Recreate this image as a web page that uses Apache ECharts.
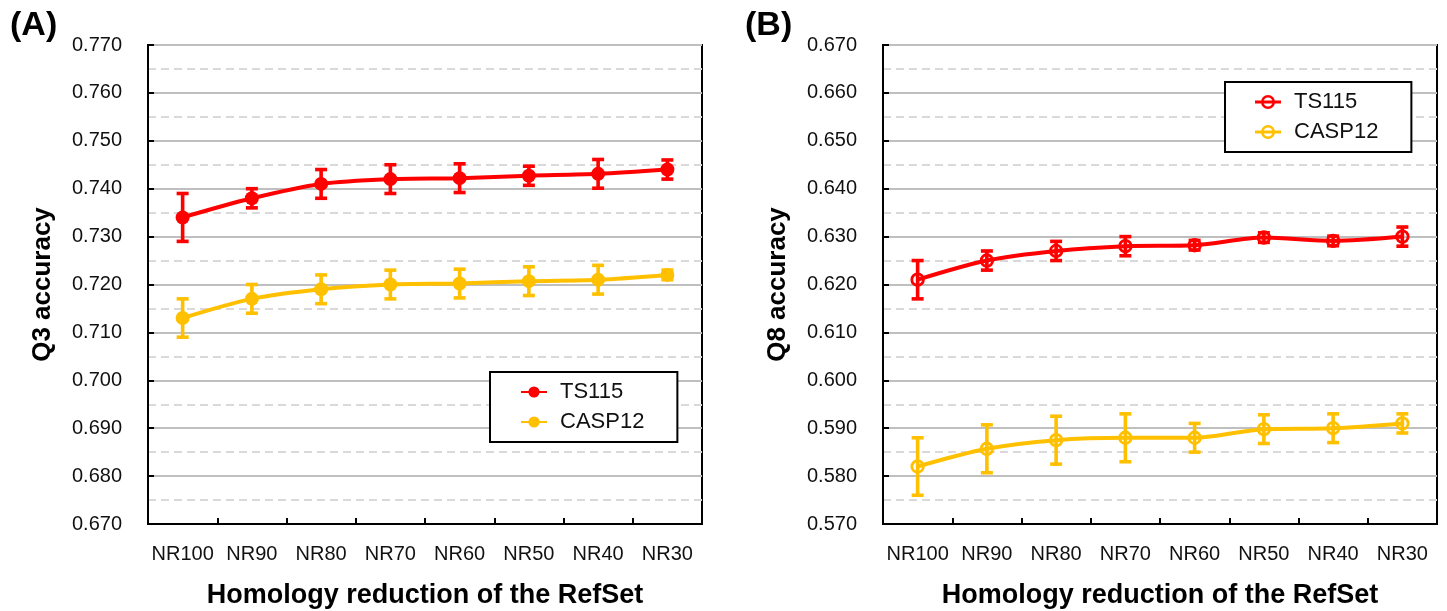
<!DOCTYPE html>
<html>
<head>
<meta charset="utf-8">
<script src="https://cdn.jsdelivr.net/npm/echarts@6/dist/echarts.min.js"></script>
<style>
  html, body { margin: 0; padding: 0; background: #fff; }
  #chart { width: 1447px; height: 611px; }
</style>
</head>
<body>
<div id="chart"></div>
<script>
// Homology reduction levels of the reference set
const categories = ['NR100', 'NR90', 'NR80', 'NR70', 'NR60', 'NR50', 'NR40', 'NR30'];

// (A) Q3 accuracy, mean and error half-width
const q3TS115 = [0.734, 0.738, 0.741, 0.742, 0.7422, 0.7427, 0.7431, 0.744];
const q3TS115Err = [0.005, 0.002, 0.003, 0.003, 0.003, 0.002, 0.003, 0.002];
const q3CASP12 = [0.713, 0.717, 0.719, 0.720, 0.7202, 0.7207, 0.721, 0.722];
const q3CASP12Err = [0.004, 0.003, 0.003, 0.003, 0.003, 0.003, 0.003, 0.001];

// (B) Q8 accuracy, mean and error half-width
const q8TS115 = [0.621, 0.625, 0.627, 0.628, 0.6282, 0.6298, 0.6291, 0.630];
const q8TS115Err = [0.004, 0.002, 0.002, 0.002, 0.001, 0.001, 0.001, 0.002];
const q8CASP12 = [0.582, 0.5857, 0.5875, 0.588, 0.588, 0.5898, 0.590, 0.591];
const q8CASP12Err = [0.006, 0.005, 0.005, 0.005, 0.003, 0.003, 0.003, 0.002];

// Axis ranges
const q3Axis = { min: 0.67, max: 0.77, step: 0.01 };
const q8Axis = { min: 0.57, max: 0.67, step: 0.01 };

const RED = '#ff0000';
const GOLD = '#ffc000';
const FONT = '"Liberation Sans", Arial, Helvetica, sans-serif';

// legend icon: open ring with the line passing through
const ringIcon = 'path://M0,5.5L26,5.5L26,8.5L0,8.5Z M6,7A7,7 0 1,1 20,7A7,7 0 1,1 6,7Z M8.5,7A4.5,4.5 0 1,0 17.5,7A4.5,4.5 0 1,0 8.5,7Z';

function barData(values, errs) {
  return values.map((v, i) => [i, v - errs[i], v + errs[i], v]);
}

function errorBarRenderer(color, ring) {
  return function (params, api) {
    const i = api.value(0);
    const lo = api.coord([i, api.value(1)]);
    const hi = api.coord([i, api.value(2)]);
    const mid = api.coord([i, api.value(3)]);
    const half = 6;
    const st = { stroke: color, lineWidth: 3.6 };
    const children = [
      { type: 'line', shape: { x1: lo[0], y1: lo[1], x2: hi[0], y2: hi[1] }, style: st },
      { type: 'line', shape: { x1: lo[0] - half, y1: lo[1], x2: lo[0] + half, y2: lo[1] }, style: st },
      { type: 'line', shape: { x1: hi[0] - half, y1: hi[1], x2: hi[0] + half, y2: hi[1] }, style: st }
    ];
    if (ring) {
      children.push({ type: 'circle', shape: { cx: mid[0], cy: mid[1], r: 5.8 },
        style: { fill: null, stroke: color, lineWidth: 2.8 } });
    }
    return { type: 'group', children: children };
  };
}

function valueAxis(idx, range, title) {
  return {
    type: 'value', gridIndex: idx,
    min: range.min, max: range.max, interval: range.step,
    name: title, nameLocation: 'middle', nameGap: 92,
    nameTextStyle: { fontFamily: FONT, fontSize: 26, fontWeight: 'bold', color: '#000' },
    axisLine: { show: true, lineStyle: { color: '#000', width: 2 } },
    axisTick: { show: true, inside: true, length: 6, lineStyle: { color: '#000', width: 2 } },
    axisLabel: { fontFamily: FONT, fontSize: 20, color: '#111', margin: 26,
      formatter: v => v.toFixed(3) },
    splitLine: { show: true, lineStyle: { color: '#bfbfbf', width: 2 } },
    minorTick: { show: false, splitNumber: 2 },
    minorSplitLine: { show: true, lineStyle: { color: '#d9d9d9', width: 2, type: [8, 5] } }
  };
}

function catAxis(idx) {
  return {
    type: 'category', gridIndex: idx, data: categories, boundaryGap: true,
    name: 'Homology reduction of the RefSet', nameLocation: 'middle', nameGap: 58,
    nameTextStyle: { fontFamily: FONT, fontSize: 27, fontWeight: 'bold', color: '#000' },
    axisLine: { show: true, lineStyle: { color: '#000', width: 2 } },
    axisTick: { show: true, inside: true, length: 6, lineStyle: { color: '#000', width: 2 } },
    axisLabel: { fontFamily: FONT, fontSize: 20, color: '#111', margin: 20, interval: 0 },
    splitLine: { show: false }
  };
}

function lineSeries(name, idx, values, color, filled) {
  return {
    type: 'line', name: name, xAxisIndex: idx, yAxisIndex: idx,
    data: values, smooth: 0.3, z: 2,
    symbol: filled ? 'circle' : 'none', symbolSize: 14, showSymbol: filled,
    lineStyle: { color: color, width: 4 },
    itemStyle: { color: color, borderWidth: 0 }
  };
}

function errSeries(idx, values, errs, color, ring) {
  return {
    type: 'custom', xAxisIndex: idx, yAxisIndex: idx, z: 3,
    data: barData(values, errs),
    encode: { x: 0, y: [1, 2] },
    renderItem: errorBarRenderer(color, ring)
  };
}

function legendBox(left, top, names, icon) {
  return {
    orient: 'vertical', left: left, top: top,
    data: names.map(n => icon ? { name: n, icon: icon } : { name: n }),
    itemWidth: 26, itemHeight: 14, itemGap: 8,
    padding: [9, 33, 9, 30],
    borderColor: '#000', borderWidth: 2, backgroundColor: '#fff',
    selectedMode: false,
    textStyle: { fontFamily: FONT, fontSize: 22, color: '#111', padding: [0, 0, 0, 8] }
  };
}

function gridBox(left) {
  return {
    left: left, top: 45, width: 554, height: 479,
    outerBoundsMode: 'none', containLabel: false,
    show: true, borderColor: '#000', borderWidth: 2, backgroundColor: 'transparent'
  };
}

const chart = echarts.init(document.getElementById('chart'), null, { renderer: 'canvas' });

chart.setOption({
  animation: false,
  backgroundColor: '#fff',
  grid: [gridBox(148), gridBox(883)],
  xAxis: [catAxis(0), catAxis(1)],
  yAxis: [valueAxis(0, q3Axis, 'Q3 accuracy'), valueAxis(1, q8Axis, 'Q8 accuracy')],
  legend: [
    legendBox(490, 372, ['TS115', 'CASP12'], null),
    legendBox(1225, 82, ['TS115', 'CASP12'], ringIcon)
  ],
  graphic: [
    { type: 'text', left: 10, top: 9, style: { text: '(A)', fontFamily: FONT, fontSize: 34, fontWeight: 'bold', fill: '#000' } },
    { type: 'text', left: 745, top: 9, style: { text: '(B)', fontFamily: FONT, fontSize: 34, fontWeight: 'bold', fill: '#000' } }
  ],
  series: [
    lineSeries('TS115', 0, q3TS115, RED, true),
    lineSeries('CASP12', 0, q3CASP12, GOLD, true),
    errSeries(0, q3TS115, q3TS115Err, RED, false),
    errSeries(0, q3CASP12, q3CASP12Err, GOLD, false),
    lineSeries('TS115', 1, q8TS115, RED, false),
    lineSeries('CASP12', 1, q8CASP12, GOLD, false),
    errSeries(1, q8TS115, q8TS115Err, RED, true),
    errSeries(1, q8CASP12, q8CASP12Err, GOLD, true)
  ]
});
</script>
</body>
</html>
